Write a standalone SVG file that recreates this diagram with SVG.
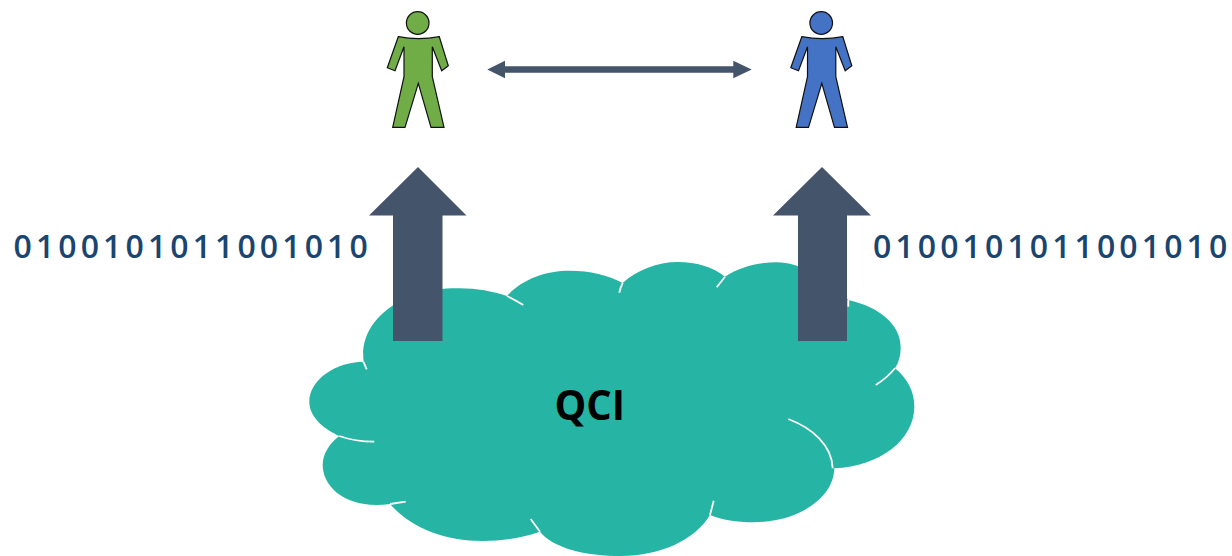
<svg xmlns="http://www.w3.org/2000/svg" width="1232" height="556" viewBox="0 0 1232 556">
<style>
.bits{font-family:"Open Sans","Liberation Sans",sans-serif;font-weight:600;font-size:32px;letter-spacing:4.1px;fill:#1a4570}
.qci{font-family:"Open Sans","Liberation Sans",sans-serif;font-weight:700;font-size:42px;fill:#000}
.person{stroke:#111;stroke-width:1.2;stroke-linejoin:miter}
.stub{fill:none;stroke:#fff;stroke-width:1.8;stroke-linecap:butt}
.big{fill:#44546a}
</style>
<defs>
<g id="figure">
<circle cx="-0.8" cy="23" r="11.3"/>
<path d="M-20.2,36.7Q0,40.5 20.8,36.7L29.8,65.7L23.2,70.7L13.8,46.7V76.7L25.5,127.3H12.5L-0.2,83.3L-13.5,127.3H-25.8L-14.5,76.7V46.7L-23.5,70.7L-31.2,67.7Z"/>
</g>
</defs>
<g id="cloud">
<path fill="#26b5a5" d="M363.7,361.7C358,322 400,288 457,288.3C475,288 492,291 507,296C522,279 546,270.7 570,270.7C590,270.7 608,275 622.7,283C637,270 657,262 678,262C696,262 713,267 725,276.7C740,267 758,262.3 776.7,262.3C800,262.3 825,278 848.3,300C880,307 900.7,325 900.7,347.3C900.7,355 899,362 895,368.3C908,379 914.3,392 914.3,406.7C914.3,440 880,466 834.3,468.3C834,498 798,522.3 753.3,522.3C737,522.3 722,520 710,515C695,540 660,556 621,556C585,556 553,548 540,531.7C522,538 503,541 483,541C443,541 410,527 390,504C348,510 322.7,488 322.7,465C322.7,454 329,444 339.3,436C322,428 309.3,416 309.3,401.7C309.3,380 335,362 363.7,361.7Z"/>
<path class="stub" d="M363.3,361.7L366.7,369.3M507,296Q515,300 523.3,305M339.3,436Q355,441.7 374.3,441.7M390,504L405.7,501.7M530.7,519L540,531.7M619.3,292.7Q620.5,287 622.7,283M716.7,287.3L725,276.7M848.3,300V306.7M895,368.3Q887,378 875.7,385M788.3,419C812,428 832,445 832.7,468.3M710,515L713.7,500.7"/>
<text class="qci" x="554.5" y="419.5" textLength="70.5" lengthAdjust="spacingAndGlyphs">QCI</text>
</g>
<g id="alice"><use href="#figure" x="418.5" fill="#70ad47" class="person"/></g>
<g id="bob"><use href="#figure" x="822" fill="#4472c4" class="person"/></g>
<g id="connectors">
<path class="big" d="M418,167L466.5,215.5H442.5V341H393V215.5H369Z"/>
<path class="big" d="M822,167L871,215.5H847V341H798V215.5H773Z"/>
<path class="big" d="M487.3,69.5L505,60.7V66.2H733.3V60.7L751.7,69.5L733.3,78.3V72.8H505V78.3Z"/>
</g>
<g id="labels">
<text class="bits" x="13.5" y="258">0100101011001010</text>
<text class="bits" x="873" y="258">0100101011001010</text>
</g>
</svg>
